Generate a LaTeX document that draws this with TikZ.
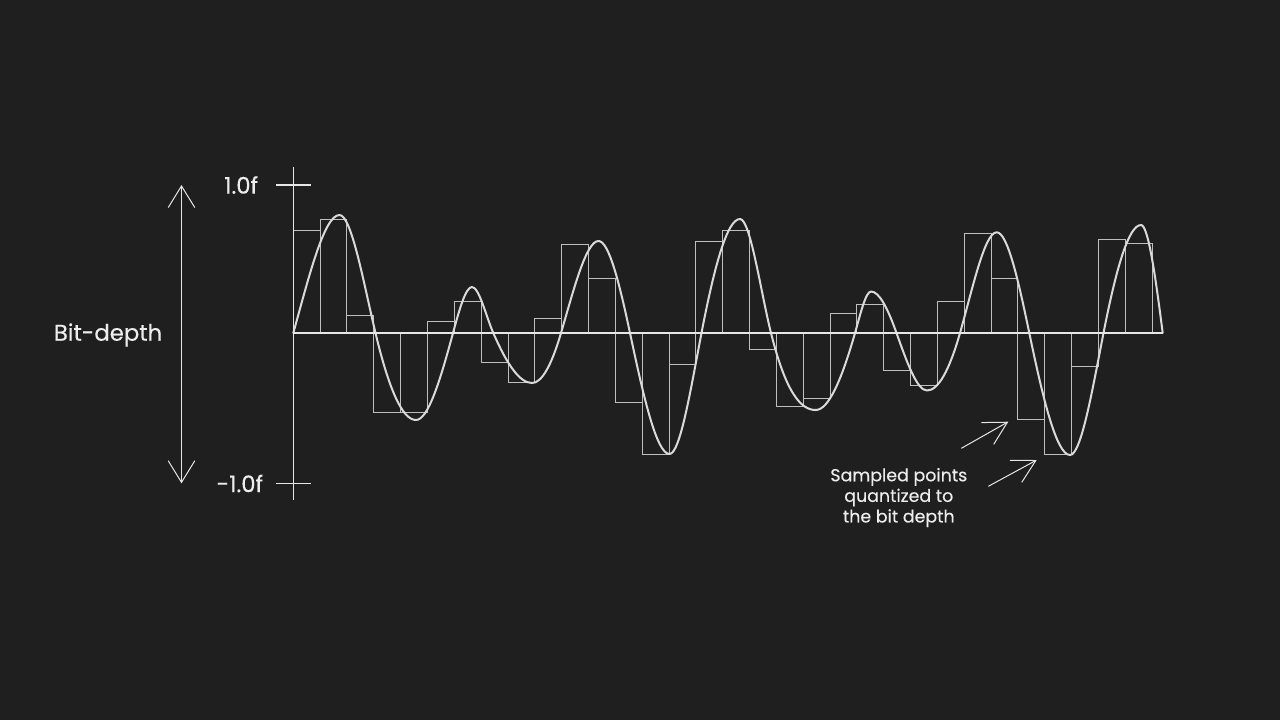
\documentclass[tikz,border=0pt]{standalone}
\usepackage{fontspec}
\setmainfont{Poppins}[FakeBold=0.3]
\usetikzlibrary{arrows.meta}
\definecolor{bg}{HTML}{1F1F1F}
\definecolor{ink}{HTML}{EDEDED}
\definecolor{barc}{HTML}{BEBEBE}
\definecolor{wavec}{HTML}{DADADA}
\definecolor{axisc}{HTML}{E6E6E6}
\begin{document}
\begin{tikzpicture}[x=0.5pt,y=-0.5pt,
  barbox/.style={draw=barc,line width=0.5pt},
  wave/.style={draw=wavec,line width=1pt,line cap=round,line join=round},
  axisline/.style={draw=axisc,line width=0.6pt},
  bigarrow/.style={draw=axisc,line width=0.5pt,{Straight Barb[length=10.8pt,width=13.3pt]}-{Straight Barb[length=10.8pt,width=13.3pt]}},
  pointer/.style={draw=axisc,line width=0.5pt,-{Straight Barb[length=11.4pt,width=12.5pt]}},
  lbl/.style={text=ink,inner sep=0pt,font=\fontsize{11.4}{13}\selectfont},
  caption/.style={text=ink,inner sep=0pt,align=center,font=\fontsize{8.7}{10.3}\selectfont}]
\fill[bg] (0,0) rectangle (1280,720);
\useasboundingbox (0,0) rectangle (1280,720);
% quantized samples
\foreach \k/\v in {0/230.3,1/219.3,2/315.3,3/412.7,4/412.7,5/321.3,6/301.3,7/362,8/382,9/318.3,
  10/244,11/278.3,12/402.7,13/454,14/364,15/241.3,16/230.3,17/349,18/406,19/398,
  20/313.7,21/304.3,22/370,23/385,24/301.3,25/233.3,26/278.3,27/419,28/454,29/366,30/239.3,31/243.3}{
  \draw[barbox] ({293.3+26.84*\k},333) rectangle ({293.3+26.84*(\k+1)},\v);
}
% waveform
\draw[wave] (293.3,333) foreach \xa/\ya/\ma/\xb/\yb/\mb in {
  293.3/333/-3.6/339.5/215/0, 339.5/215/0/375.5/333/4.2, 375.5/333/4.2/416/420/0,
  416/420/0/453/333/-3.7, 453/333/-3.7/472/287/0, 472/287/0/493.3/333/2.3,
  493.3/333/2.3/532/383/0, 532/383/0/561/333/-3.4, 561/333/-3.4/598.5/241/0,
  598.5/241/0/630/333/4.7, 630/333/4.7/669.5/454/0, 669.5/454/0/701.5/333/-5.2,
  701.5/333/-5.2/740/219/0, 740/219/0/771/333/4.0, 771/333/4.0/815.7/410/0,
  815.7/410/0/855/333/-3.5, 855/333/-3.5/871/291.5/0, 871/291.5/0/896.5/333/2.8,
  896.5/333/2.8/927/390.5/0, 927/390.5/0/960/333/-3.5, 960/333/-3.5/996.7/232.3/0,
  996.7/232.3/0/1029.3/333/4.8, 1029.3/333/4.8/1070/455/0, 1070/455/0/1103.5/333/-5.1,
  1103.5/333/-5.1/1141/225/0, 1141/225/0/1162.7/333/7.8}
  { .. controls ({\xa+(\xb-\xa)/3},{\ya+(\ma)*(\xb-\xa)/3}) and ({\xb-(\xb-\xa)/3},{\yb-(\mb)*(\xb-\xa)/3}) .. (\xb,\yb) };
% axes
\coordinate (ytop) at (293.3,167);
\coordinate (ybot) at (293.3,499.5);
\coordinate (xl) at (293.3,333);
\coordinate (xr) at (1162.7,333);
\coordinate (t1l) at (276,185);
\coordinate (t1r) at (311,185);
\coordinate (t2l) at (276,483.3);
\coordinate (t2r) at (311,483.3);
\draw[axisline] (ytop) -- (ybot);
\draw[axisline] (xl) -- (xr);
\draw[axisline] (t1l) -- (t1r);
\draw[axisline] (t2l) -- (t2r);
\node[lbl,anchor=east] (one) at (258.5,185) {1.0f};
\node[lbl,anchor=east] (mone) at (263.5,483.5) {-1.0f};
% bit-depth arrow
\coordinate (bt) at (181.5,185);
\coordinate (bb) at (181.5,483.3);
\draw[bigarrow] (bb) -- (bt);
\node[lbl,anchor=west] (bd) at (53.5,335) {Bit-depth};
% caption and pointers
\node[caption] (cap) at (898.8,497.5) {Sampled points\\quantized to\\the bit depth};
\coordinate (p1t) at (961.3,448.3);
\coordinate (p1h) at (1008.3,421.7);
\coordinate (p2t) at (988.3,486.3);
\coordinate (p2h) at (1036.7,460);
\draw[pointer] (p1t) -- (p1h);
\draw[pointer] (p2t) -- (p2h);
\end{tikzpicture}
\end{document}
